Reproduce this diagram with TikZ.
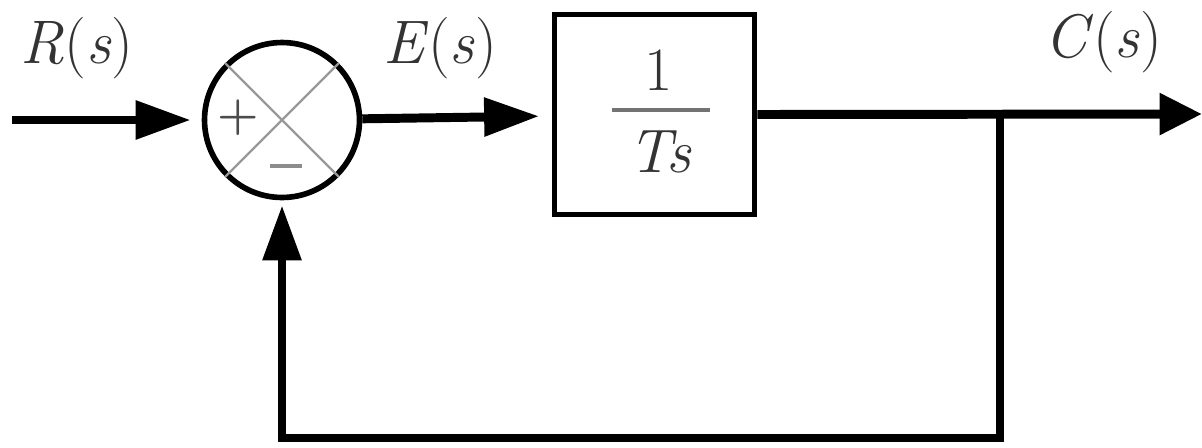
\documentclass[tikz,border=0pt]{standalone}
\usetikzlibrary{arrows.meta}
\begin{document}
\begin{tikzpicture}[x=0.02cm,y=-0.02cm,
  sig/.style={line width=5.1pt, line join=miter, -{Triangle[length=1.1cm,width=0.74cm]}},
  sigout/.style={line width=5.1pt, -{Triangle[length=0.85cm,width=0.8cm]}},
  sumnode/.style={circle, draw, line width=3.2pt, minimum size=3.1cm, inner sep=0pt},
  blk/.style={rectangle, draw, line width=3.3pt, minimum width=4cm, minimum height=4cm, inner sep=0pt},
  lbl/.style={font=\fontsize{35}{38}\selectfont, text=black!80, inner sep=0pt},
  cross/.style={line width=1.3pt, black!40},
  sign/.style={font=\fontsize{27}{29}\selectfont\bfseries, text=black!70, inner sep=0pt}]
\useasboundingbox (0,0) rectangle (1202,447);
% summing junction
\node[sumnode] (sum) at (282,120) {};
\draw[cross] (sum.north west) -- (sum.south east);
\draw[cross] (sum.north east) -- (sum.south west);
\node[sign] (plus) at (238,118) {+};
\node[sign, text=black!45] (minus) at (286,166) {\rule{0.64cm}{0.08cm}};
% block
\node[blk] (G) at (654.5,114.5) {};
\node[lbl] (num) at (659,70) {1};
\draw[line width=2.3pt, black!55] (612,110) -- (710,110);
\node[lbl] (den) at (660,152) {\textit{Ts}};
% labels
\node[lbl] (R) at (77,48) {\textit{R}(\textit{s})};
\node[lbl] (E) at (440,48) {\textit{E}(\textit{s})};
\node[lbl] (C) at (1103,42) {\textit{C}(\textit{s})};
% coordinates
\coordinate (in) at (12,120);
\coordinate (branch) at (1000,114);
\coordinate (out) at (1202,114);
\coordinate (fb) at (1000,438);
% connectors
\draw[sig, shorten >=0.22cm] (in) -- (sum);
\draw[sig, shorten >=0.25cm] (sum) -- (G);
\draw[sigout] (G.east) -- (out);
\draw[sig, shorten >=0.1cm] (branch) -- (fb) -| (sum.south);
\end{tikzpicture}
\end{document}
